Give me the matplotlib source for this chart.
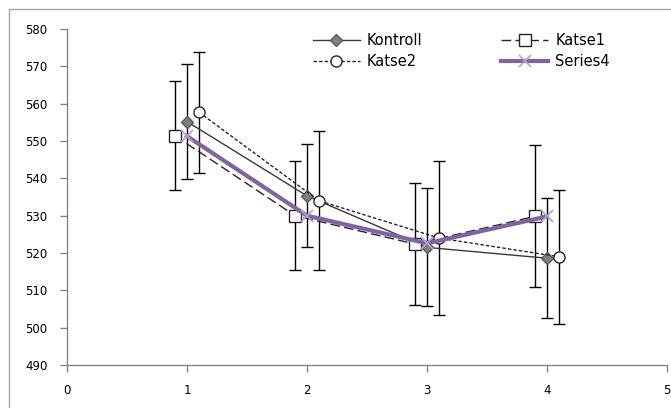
import matplotlib
matplotlib.use("Agg")
import matplotlib.pyplot as plt
from matplotlib.patches import Rectangle

x_pos = [1, 2, 3, 4]
offset_katse1 = -0.1
offset_katse2 = 0.1

kontroll = [555.2, 535.3, 521.5, 518.6]
kontroll_err = [15.5, 13.8, 15.8, 16.0]
katse1 = [551.4, 530.0, 522.4, 529.8]
katse1_err = [14.6, 14.6, 16.4, 19.0]
katse2 = [557.7, 534.0, 524.0, 519.0]
katse2_err = [16.2, 18.6, 20.7, 18.0]
series4 = [551.3, 530.0, 522.6, 529.8]

x_ticks = [0, 1, 2, 3, 4, 5]
y_ticks = [490, 500, 510, 520, 530, 540, 550, 560, 570, 580]

W, H = 671, 408
fig = plt.figure(figsize=(W / 100, H / 100), dpi=100)
ax = fig.add_axes([67 / W, 1 - 365 / H, 600 / W, 336 / H])

fig.patches.append(Rectangle((9 / W, -0.1), 1.2, 1 - 8.5 / H + 0.1,
                             transform=fig.transFigure, fill=False,
                             edgecolor="#a6a6a6", linewidth=1))

ebkw = dict(ecolor="black", elinewidth=1, capsize=4, capthick=1)

xk = [v for v in x_pos]
x1 = [v + offset_katse1 for v in x_pos]
x2 = [v + offset_katse2 for v in x_pos]

ax.errorbar(xk, kontroll, yerr=kontroll_err, fmt="none", zorder=2, **ebkw)
ax.errorbar(x1, katse1, yerr=katse1_err, fmt="none", zorder=2, **ebkw)
ax.errorbar(x2, katse2, yerr=katse2_err, fmt="none", zorder=2, **ebkw)

l_k, = ax.plot(xk, kontroll, color="#3a3a3a", lw=1, ls="-", marker="D",
               markersize=6.5, markerfacecolor="#7f7f7f", markeredgecolor="#595959",
               zorder=3, label="Kontroll")
l_1, = ax.plot(x1, katse1, color="#262626", lw=1, ls=(0, (7, 3)), marker="s",
               markersize=8, markerfacecolor="white", markeredgecolor="#262626",
               zorder=3, label="Katse1")
l_2, = ax.plot(x2, katse2, color="#262626", lw=1, ls=(0, (2.5, 1.5)), marker="o",
               markersize=8, markerfacecolor="white", markeredgecolor="#262626",
               zorder=3, label="Katse2")
l_4, = ax.plot(x_pos, series4, color="#8064a2", lw=3, ls="-", marker="x",
               markersize=8, markeredgecolor="#b3a2c7", markeredgewidth=1.2,
               zorder=4, label="Series4")

ax.set_xlim(0, 5)
ax.set_ylim(490, 580)
ax.set_xticks(x_ticks)
ax.set_yticks(y_ticks)
for s in ["top", "right"]:
    ax.spines[s].set_visible(False)
for s in ["left", "bottom"]:
    ax.spines[s].set_color("#868686")
    ax.spines[s].set_linewidth(1)
ax.tick_params(axis="both", direction="out", color="#868686", labelsize=8.5,
               labelcolor="black", length=5, width=1)
ax.tick_params(axis="y", pad=9)
ax.tick_params(axis="x", pad=9)

leg = ax.legend(handles=[l_k, l_2, l_1, l_4], ncol=2, frameon=False, fontsize=10.5,
                loc="upper left", bbox_to_anchor=(313 / W, 1 - 33 / H),
                bbox_transform=fig.transFigure, borderpad=0, borderaxespad=0,
                handlelength=3.2, handletextpad=0.5, columnspacing=5.4,
                labelspacing=0.42)

fig.savefig("out.png", dpi=100)
